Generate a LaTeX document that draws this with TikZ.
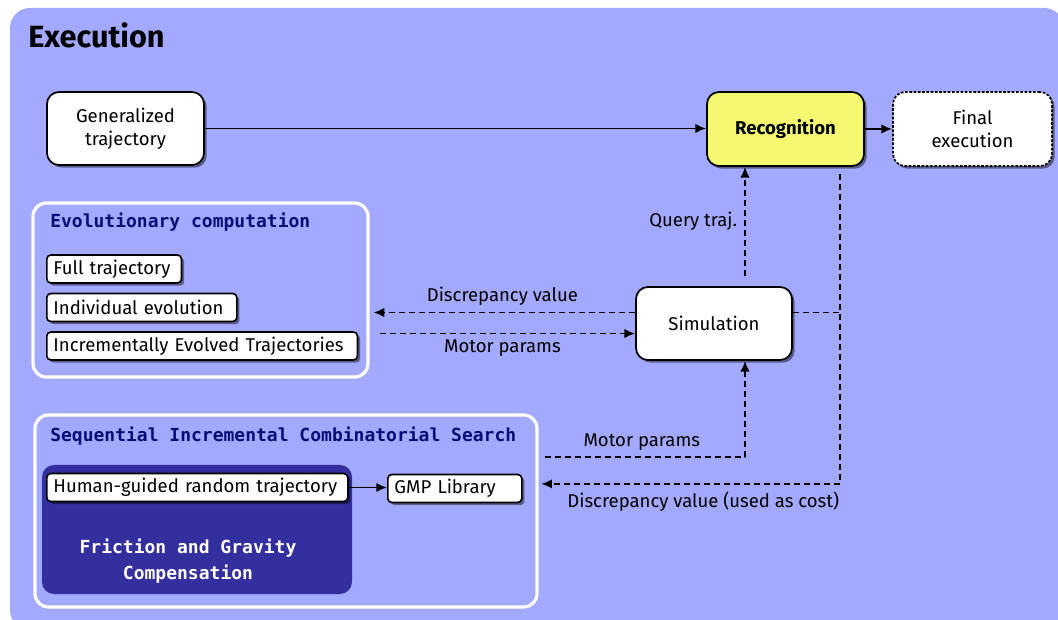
\documentclass[tikz,border=0pt]{standalone}
\usepackage{fontspec}
\setmainfont{Fira Sans}
\setmonofont{DejaVu Sans Mono}
\usepackage{xcolor}
\usetikzlibrary{arrows.meta,shadows,calc}

\definecolor{execbg}{HTML}{A3A9FE}
\definecolor{recyellow}{HTML}{F4F96F}
\definecolor{fricblue}{HTML}{332F9E}
\definecolor{headnavy}{HTML}{0B0B78}
\newcommand{\txtsize}{\fontsize{13.9}{17}\selectfont}
\newcommand{\headsize}{\fontsize{13.5}{20}\selectfont\ttfamily\bfseries}

\begin{document}
\begin{tikzpicture}[x=0.75pt,y=-0.75pt,
    every node/.style={font=\txtsize},
    bigbox/.style={draw,line width=1.3pt,fill=white,rounded corners=9pt,align=center,
        drop shadow={shadow xshift=2pt,shadow yshift=-2pt,fill=black,opacity=0.45}},
    smallbox/.style={draw,line width=1.2pt,fill=white,rounded corners=3pt,anchor=west,
        inner xsep=5pt,inner ysep=0pt,minimum height=21pt,align=left,
        drop shadow={shadow xshift=2pt,shadow yshift=-2pt,fill=black,opacity=0.45}},
    group/.style={draw=white,line width=2.4pt,rounded corners=10pt},
    grouphead/.style={anchor=west,inner sep=0pt,text=headnavy,font=\headsize},
    flow/.style={line width=1.4pt,-{Latex[length=8pt,width=7pt]}},
    dline/.style={line width=1.4pt,dash pattern=on 4.5pt off 3pt},
    dflow/.style={dline,-{Latex[length=8pt,width=7pt]}}]

    % background of the whole execution stage
    \useasboundingbox (0,0) rectangle (1058,620);
    \fill[execbg,rounded corners=15pt] (10,8) rectangle (1064,630);
    \node[anchor=west,inner sep=0pt,font=\fontsize{23}{26}\selectfont\bfseries] (title) at (28,35) {Execution};

    % main stages
    \node[bigbox,minimum width=117.75pt,minimum height=54.75pt] (gen) at (125.5,128.5) {Generalized\\trajectory};
    \node[bigbox,fill=recyellow,minimum width=117.75pt,minimum height=55.5pt,font=\txtsize\bfseries] (rec) at (785.5,129) {Recognition};
    \node[bigbox,dash pattern=on 2pt off 1.2pt,minimum width=119.25pt,minimum height=55.5pt] (fin) at (972.5,129) {Final\\execution};
    \node[bigbox,minimum width=117pt,minimum height=54.75pt] (sim) at (714,323.5) {Simulation};

    % evolutionary computation group
    \node[group,minimum width=251.25pt,minimum height=130.5pt] (evo) at (200.5,290) {};
    \node[grouphead] (evohead) at (50,222) {Evolutionary computation};
    \node[smallbox,text width=91pt] (full) at (46,269) {Full trajectory};
    \node[smallbox,text width=132.5pt] (indiv) at (46,307.5) {Individual evolution};
    \node[smallbox,text width=223pt] (incr) at (46,346) {Incrementally Evolved Trajectories};

    % sequential incremental combinatorial search group
    \node[group,minimum width=376.5pt,minimum height=144pt] (sics) at (286,511) {};
    \node[grouphead] (sicshead) at (50,436) {Sequential Incremental Combinatorial Search};
    \node[fill=fricblue,rounded corners=9pt,minimum width=232.5pt,minimum height=96.75pt] (fric) at (197,529.5) {};
    \node[font=\headsize,text=white,align=center] (friclabel) at (188,561) {Friction and Gravity\\Compensation};
    \node[smallbox,text width=215.75pt] (human) at (46,487.5) {Human-guided random trajectory};
    \node[smallbox,text width=90.5pt] (gmp) at (387,488.5) {GMP Library};

    % helper points for the dashed loops
    \coordinate (dv) at ($(sim.west)+(0,-11)$);
    \coordinate (mv) at ($(sim.west)+(0,10)$);
    \coordinate (q1) at ($(sim.north)+(31,-10)$);
    \coordinate (r1) at ($(rec.south)+(54.5,7)$);
    \coordinate (se) at ($(sim.east)+(0,-11)$);
    \coordinate (cost) at ($(r1)+(0,310)$);
    \coordinate (mp) at ($(sim.south)+(31,96)$);

    % connectors
    \draw[flow] (gen.east) -- (gen.east -| rec.west);
    \draw[flow] (rec.east) -- (rec.east -| fin.west);
    \draw[flow] (human.east) -- (human.east -| gmp.west);

    \draw[dflow,shorten >=3pt] (dv) -- (dv -| evo.east) node[midway,above=1pt] {Discrepancy value};
    \draw[dflow,shorten <=7.5pt] (mv -| evo.east) -- (mv) node[midway,below=1pt] {Motor params};
    \draw[dflow] (q1) -- (q1 |- rec.south) node[midway,left=2pt] {Query traj.};
    \draw[dline] (se) -- (se -| r1);
    \draw[dflow,shorten >=2pt] (r1) -- (cost) node[anchor=north east,inner sep=0pt,yshift=-5pt] {Discrepancy value (used as cost)} -- (cost -| sics.east);
    \draw[dflow,shorten <=4.5pt] (mp -| sics.east) -- (mp) node[midway,above=1pt] {Motor params} -- (mp |- sim.south);

\end{tikzpicture}
\end{document}
